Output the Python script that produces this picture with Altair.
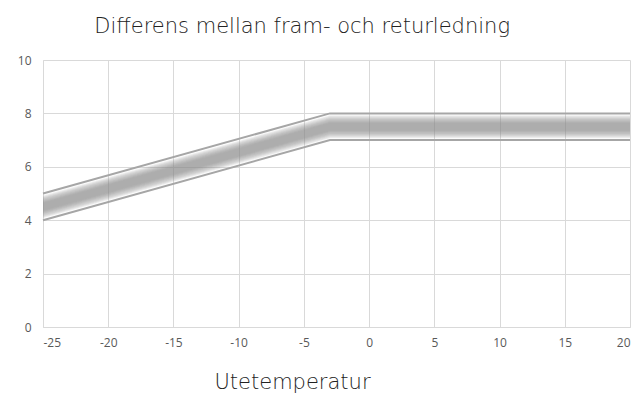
import altair as alt
import pandas as pd

temps = [-25, -3, 20]
upper = [5, 8, 8]
lower = [4, 7, 7]

df = pd.DataFrame({"x": temps, "hi": upper, "lo": lower})
base = alt.Chart(df)

xs = alt.Scale(domain=[-25, 20], nice=False, zero=False)
ys = alt.Scale(domain=[0, 10])

x_enc = alt.X("x:Q", scale=xs, axis=alt.Axis(
    values=[-25, -20, -15, -10, -5, 0, 5, 10, 15, 20], title="Utetemperatur",
    labelExpr="'' + datum.value",
    titleX=249, titleY=44, titleFontSize=21, titleFont="DejaVu Sans", titleFontWeight=200,
    titleColor="#222222", labelPadding=10))

layers = []
fracs = [0.06 + 0.02 * i for i in range(16)]
for f in fracs:
    layers.append(
        base.transform_calculate(
            a=f"datum.lo + {f}*(datum.hi - datum.lo)",
            b=f"datum.hi - {f}*(datum.hi - datum.lo)",
        ).mark_area(color="#8a8a8a", opacity=0.07).encode(
            x=x_enc,
            y=alt.Y("a:Q", scale=ys, axis=alt.Axis(values=[0, 2, 4, 6, 8, 10], title=None, labelPadding=12)),
            y2="b:Q",
        )
    )

line_hi = base.mark_line(color="#a6a6a6", strokeWidth=2).encode(x=x_enc, y=alt.Y("hi:Q", scale=ys))
line_lo = base.mark_line(color="#a6a6a6", strokeWidth=2).encode(x=x_enc, y=alt.Y("lo:Q", scale=ys))

chart = alt.layer(*layers, line_hi, line_lo).properties(
    width=587, height=267,
    autosize=alt.AutoSizeParams(type="none"),
    padding={"left": 35, "top": 52, "right": 5, "bottom": 80},
    title=alt.TitleParams("Differens mellan fram- och returledning", anchor="start",
                          dx=77, offset=17, fontSize=21, font="DejaVu Sans",
                          fontWeight=200, color="#222222"),
).configure_axis(
    gridColor="#d9d9d9", domainColor="#d9d9d9", ticks=False,
    labelFont="Open Sans", labelFontSize=12, labelColor="#595959", grid=True,
).configure_view(stroke=None)

chart.save("out.html", embed_options={"renderer": "svg", "actions": False})
